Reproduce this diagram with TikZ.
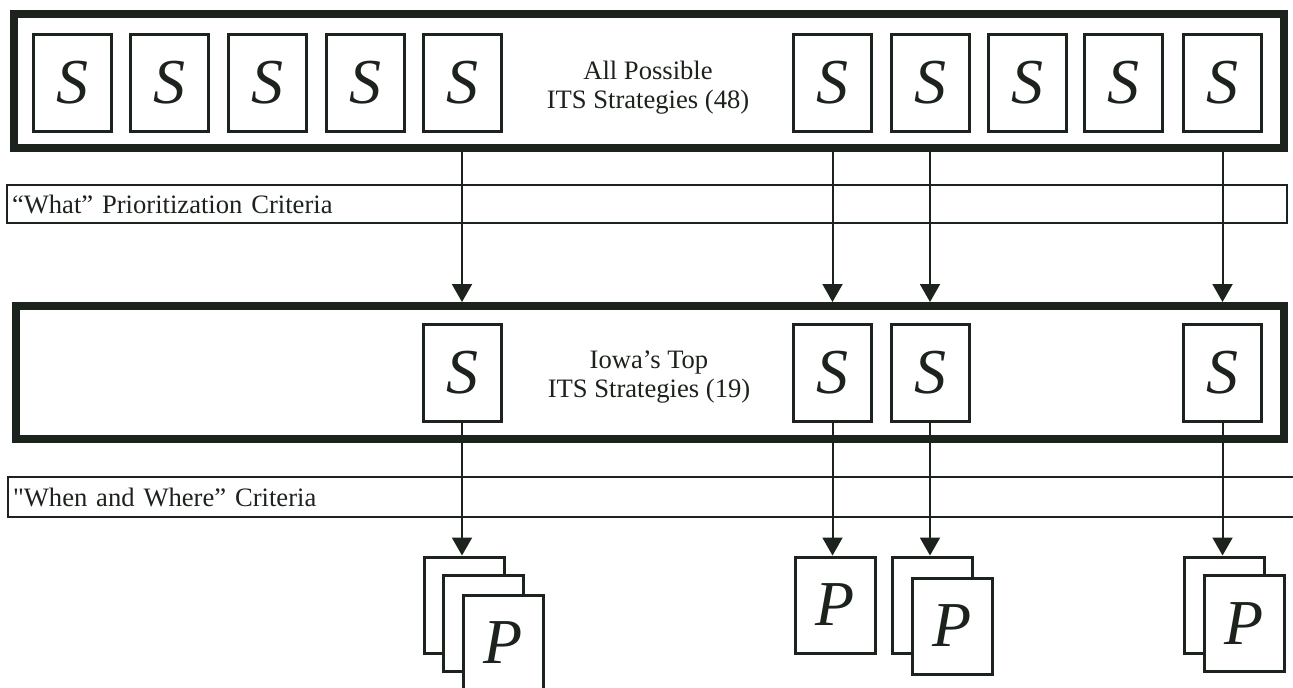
\documentclass[tikz,border=0pt]{standalone}
\usepackage{fontspec}
\setmainfont{Liberation Serif}[Ligatures=TeXOff]
\usetikzlibrary{arrows.meta}
\definecolor{ink}{RGB}{28,34,28}
\begin{document}
\begin{tikzpicture}[x=0.5pt,y=-0.5pt,
  bigbox/.style={draw=ink,line width=4pt,fill=white,inner sep=0pt},
  sbox/.style={draw=ink,line width=1.5pt,fill=white,minimum width=39pt,minimum height=48.5pt,inner sep=0pt,font=\fontsize{32}{32}\selectfont\itshape,text=ink},
  pbox/.style={sbox,minimum width=40pt,minimum height=48pt},
  bar/.style={draw=ink,line width=0.75pt,fill=white,inner xsep=2.5pt,inner ysep=0pt,align=left,font=\fontsize{13.3}{14}\selectfont,text=ink},
  lbl/.style={align=center,font=\fontsize{13.3}{14.5}\selectfont,text=ink},
  arr/.style={draw=ink,line width=1pt,-{Triangle[width=10pt,length=9pt]}}
]
\useasboundingbox[fill=white] (0,0) rectangle (1293,687);

% top container
\node[bigbox,minimum width=635pt,minimum height=67pt] (top) at (649,80.5) {};
\foreach \x [count=\i] in {72.5,169,267,365,462,832.5,930,1027,1123,1222.5}
  \node[sbox] (t\i) at (\x,82.5) {S};
\node[lbl] (alllbl) at (648,88) {All Possible\\ITS Strategies (48)};

% "What" bar
\node[bar,minimum height=19pt,text width=635pt] (what) at (647,204) {“What” Prioritization Criteria};

% middle container
\node[bigbox,minimum width=634pt,minimum height=66.5pt] (mid) at (650,372.5) {};
\node[sbox] (m1) at (462,372.5) {S};
\node[sbox] (m2) at (832.5,372.5) {S};
\node[sbox] (m3) at (930,372.5) {S};
\node[sbox] (m4) at (1222.5,372.5) {S};
\node[lbl] (toplbl) at (649,377) {Iowa’s Top\\ITS Strategies (19)};

% "When and Where" bar
\node[bar,minimum height=20pt,text width=641pt] (when) at (654,497) {"When and Where” Criteria};

% P stacks
\node[pbox] (p1a) at (464,605) {};
\node[pbox] (p1b) at (483.5,623.5) {};
\node[pbox] (p1c) at (503,643) {P};
\node[pbox] (p2a) at (835,605) {P};
\node[pbox] (p3a) at (932,605) {};
\node[pbox] (p3b) at (952,626) {P};
\node[pbox] (p4a) at (1224.5,605) {};
\node[pbox] (p4b) at (1244,623.5) {P};

% arrows
\foreach \i in {5,6,7,10}
  \draw[arr] (top.south -| t\i) -- (mid.north -| t\i);
\draw[arr] (m1.south) -- (m1.south |- p1a.north);
\draw[arr] (m2.south) -- (m2.south |- p2a.north);
\draw[arr] (m3.south) -- (m3.south |- p3a.north);
\draw[arr] (m4.south) -- (m4.south |- p4a.north);
\end{tikzpicture}
\end{document}
